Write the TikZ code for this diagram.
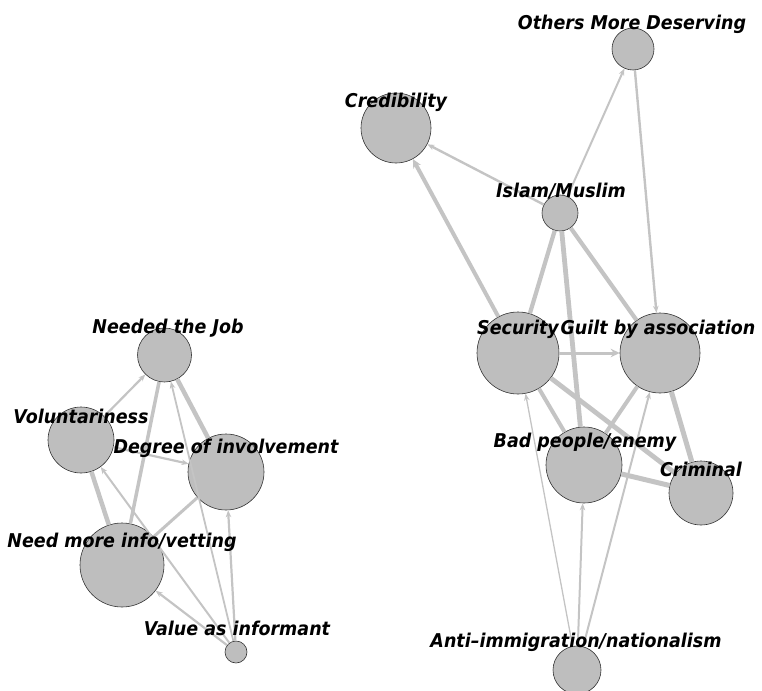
\documentclass[tikz,border=0pt]{standalone}
\usepackage{fontspec}
\setmainfont{DejaVu Sans}
\newfontfamily\lblfont{DejaVu Sans}[FakeStretch=0.92]
\usetikzlibrary{arrows.meta}
\definecolor{nodegray}{HTML}{BEBEBE}
\definecolor{edgegray}{HTML}{C4C4C4}
\begin{document}
\begin{tikzpicture}[x=1pt,y=-1pt,
  vtx/.style={circle,draw=black!80,line width=0.6pt,fill=nodegray,inner sep=0pt,minimum size=#1},
  lbl/.style={font=\lblfont\fontsize{19}{22}\selectfont\bfseries\itshape,inner sep=0pt,anchor=base},
  ed/.style={draw=edgegray,line width=#1},
  arr/.style={-{Stealth[length=7pt,width=5.5pt]}},
  arrbig/.style={-{Stealth[length=9pt,width=8.5pt]}}]
\useasboundingbox (0,0) rectangle (762,690);
% vertices
\node[vtx=54] (NJ) at (164.5,355) {};
\node[vtx=66] (V) at (81,440) {};
\node[vtx=76] (DI) at (226,472) {};
\node[vtx=84] (NMI) at (122,565) {};
\node[vtx=22] (VAI) at (236,652) {};
\node[vtx=42] (OMD) at (633,49) {};
\node[vtx=70] (Cred) at (396,128) {};
\node[vtx=36] (Isl) at (560,213) {};
\node[vtx=82] (Sec) at (518,353) {};
\node[vtx=80] (Guilt) at (660,353) {};
\node[vtx=76] (Bad) at (584,465) {};
\node[vtx=64] (Crim) at (701,493) {};
\node[vtx=48] (Anti) at (577,670) {};
% left cluster edges
\draw[ed=2.2pt,arr] (V) -- (NJ);
\draw[ed=3.5pt] (NMI) -- (NJ);
\draw[ed=4.5pt] (DI) -- (NJ);
\draw[ed=1.8pt,arr] (VAI) -- (NJ);
\draw[ed=2.2pt,arr] (V) -- (DI);
\draw[ed=4.5pt] (V) -- (NMI);
\draw[ed=2pt,arr] (VAI) -- (V);
\draw[ed=3pt] (NMI) -- (DI);
\draw[ed=2.2pt,arr] (VAI) -- (NMI);
\draw[ed=2.2pt,arr] (VAI) -- (DI);
% right cluster edges
\draw[ed=2.4pt,arr] (Isl) -- (Cred);
\draw[ed=2pt,arr] (Isl) -- (OMD);
\draw[ed=2.4pt,arr] (OMD) -- (Guilt);
\draw[ed=4pt,arrbig] (Sec) -- (Cred);
\draw[ed=4.2pt] (Isl) -- (Sec);
\draw[ed=4.8pt] (Isl) -- (Bad);
\draw[ed=4.2pt] (Isl) -- (Guilt);
\draw[ed=3pt,arrbig] (Sec) -- (Guilt);
\draw[ed=4.8pt] (Sec) -- (Crim);
\draw[ed=4pt] (Sec) -- (Bad);
\draw[ed=4pt] (Bad) -- (Guilt);
\draw[ed=5pt] (Guilt) -- (Crim);
\draw[ed=5pt] (Bad) -- (Crim);
\draw[ed=1.3pt,arr] (Anti) -- (Sec);
\draw[ed=2pt,arr] (Anti) -- (Bad);
\draw[ed=2pt,arr] (Anti) -- (Guilt);
% labels
\node[lbl] (lNJ) at (168,333) {Needed the Job};
\node[lbl] (lV) at (81,423) {Voluntariness};
\node[lbl] (lDI) at (226,453) {Degree of involvement};
\node[lbl] (lNMI) at (122,547) {Need more info/vetting};
\node[lbl] (lVAI) at (237,635) {Value as informant};
\node[lbl] (lOMD) at (632,30) {Others More Deserving};
\node[lbl] (lCred) at (396,107) {Credibility};
\node[lbl] (lIsl) at (561,197) {Islam/Muslim};
\node[lbl] (lSec) at (518,334) {Security};
\node[lbl] (lGuilt) at (658,334) {Guilt by association};
\node[lbl] (lBad) at (585,447) {Bad people/enemy};
\node[lbl] (lCrim) at (701,476) {Criminal};
\node[lbl] (lAnti) at (576,647) {Anti–immigration/nationalism};
\end{tikzpicture}
\end{document}
